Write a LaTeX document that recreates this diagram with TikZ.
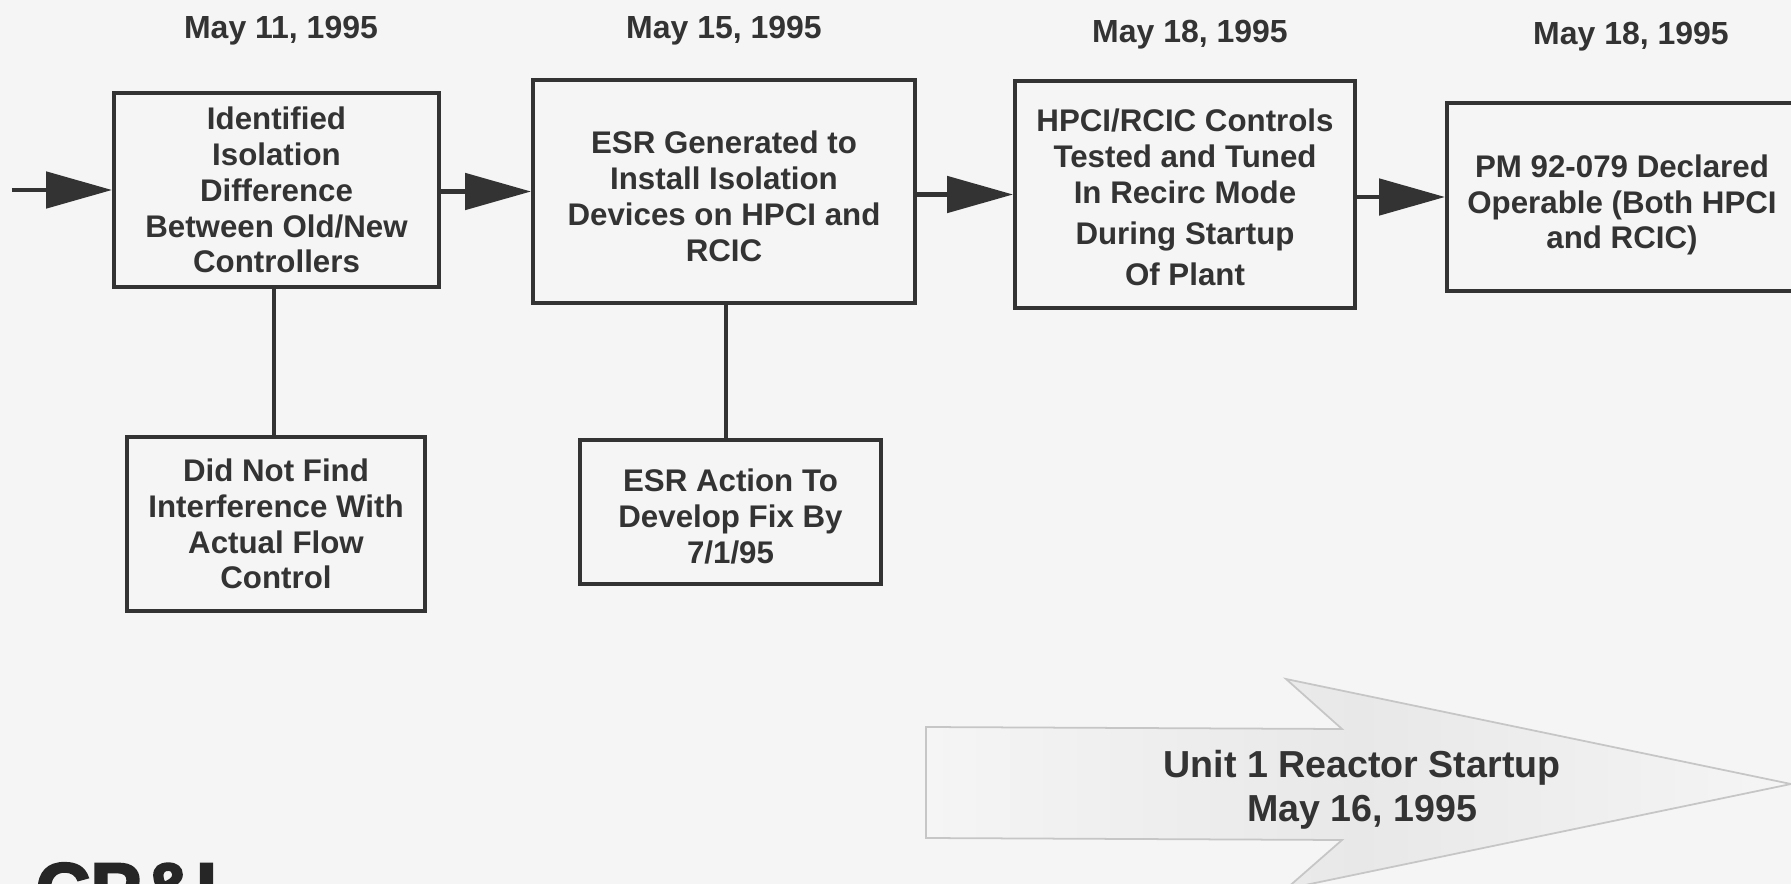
\documentclass[tikz,border=0pt]{standalone}
\usepackage{fontspec}
\setmainfont{Liberation Sans}
\newfontfamily\logofont[FakeBold=3]{Liberation Sans Bold}
\usetikzlibrary{arrows.meta}

\definecolor{paper}{HTML}{F5F5F5}
\definecolor{ink}{HTML}{333333}
\newcommand{\topgap}[1]{\rule{0pt}{#1}}
\tikzset{
  stepbox/.style={draw=ink, line width=1.1pt, align=center, text=ink, inner sep=0pt,
    font=\bfseries\fontsize{8.9}{10.2}\selectfont},
  datelabel/.style={text=ink, font=\bfseries\fontsize{9.1}{10}\selectfont},
  flow/.style={draw=ink, line width=1.4pt, -{Triangle[length=6.6mm,width=3.6mm]}},
  tie/.style={draw=ink, line width=1.4pt}
}

\begin{document}
\begin{tikzpicture}[y=-1cm]
  \clip (0,0) rectangle (17.91,8.84);
  \fill[paper] (0,0) rectangle (17.91,8.84);
  % dates
  \node[datelabel] (d1) at (2.81,0.31) {May 11, 1995};
  \node[datelabel] (d2) at (7.24,0.31) {May 15, 1995};
  \node[datelabel] (d3) at (11.90,0.35) {May 18, 1995};
  \node[datelabel] (d4) at (16.31,0.37) {May 18, 1995};
  % top row
  \node[stepbox, minimum width=3.25cm, minimum height=1.94cm] (id) at (2.765,1.90)
    {Identified\\Isolation\\Difference\\Between Old/New\\Controllers};
  \node[stepbox, minimum width=3.82cm, minimum height=2.23cm] (esr) at (7.24,1.915)
    {\topgap{9.1pt}ESR Generated to\\Install Isolation\\Devices on HPCI and\\RCIC};
  \node[stepbox, minimum width=3.40cm, minimum height=2.27cm] (hpci) at (11.85,1.945)
    {\topgap{8pt}HPCI/RCIC Controls\\Tested and Tuned\\In Recirc Mode\\[1.5pt]During Startup\\[1.5pt]Of Plant};
  \node[stepbox, minimum width=3.50cm, minimum height=1.88cm] (pm) at (16.22,1.97)
    {\topgap{11pt}PM 92-079 Declared\\Operable (Both HPCI\\and RCIC)};
  % bottom row
  \node[stepbox, minimum width=2.98cm, minimum height=1.74cm] (find) at (2.76,5.24)
    {Did Not Find\\Interference With\\Actual Flow\\Control};
  \node[stepbox, minimum width=3.01cm, minimum height=1.44cm] (fix) at (7.305,5.12)
    {\topgap{9.1pt}ESR Action To\\Develop Fix By\\7/1/95};
  % connectors
  \coordinate (start) at (0.12,1.90);
  \draw[flow] (start) -- (id.west);
  \draw[flow] (id.east |- esr.west) -- (esr.west);
  \draw[flow] (esr.east |- hpci.west) -- (hpci.west);
  \draw[flow] (hpci.east |- pm.west) -- (pm.west);
  \draw[tie] (find.north -| 2.74,0) -- (2.74,2.87);
  \draw[tie] (fix.north -| 7.26,0) -- (7.26,3.03);
  % big arrow
  \draw[draw=gray!45, line width=0.5pt, left color=paper, right color=paper, middle color=black!9]
    (9.26,7.27) -- (13.42,7.29) -- (12.86,6.79) -- (17.91,7.84) -- (12.86,8.89)
    -- (13.42,8.40) -- (9.26,8.38) -- cycle;
  \node[align=center, text=ink, font=\bfseries\fontsize{10.7}{12.4}\selectfont] (startup) at (13.62,7.90)
    {Unit 1 Reactor Startup\\May 16, 1995};
  % logo
  \node[anchor=base west, inner sep=0pt, text=black!85, font=\logofont\fontsize{21.6}{24}\selectfont] (logo) at (0.35,9.16) {CP\&L};
\end{tikzpicture}
\end{document}
